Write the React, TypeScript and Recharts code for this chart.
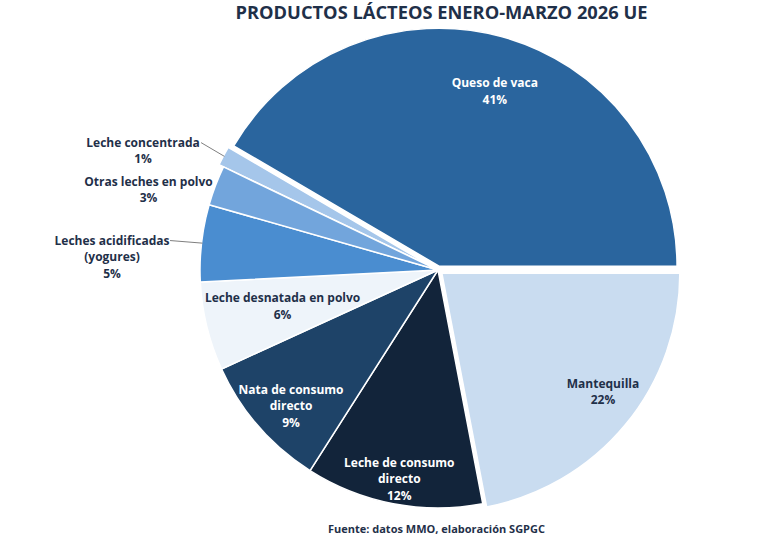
import React from "react";
import { PieChart, Pie, Cell } from "recharts";

// ---- Data ----
const categories = [
  "Mantequilla",
  "Leche de consumo directo",
  "Nata de consumo directo",
  "Leche desnatada en polvo",
  "Leches acidificadas (yogures)",
  "Otras leches en polvo",
  "Leche concentrada",
  "Queso de vaca",
];
const labelLines = [
  ["Mantequilla"],
  ["Leche de consumo", "directo"],
  ["Nata de consumo", "directo"],
  ["Leche desnatada en polvo"],
  ["Leches acidificadas", "(yogures)"],
  ["Otras leches en polvo"],
  ["Leche concentrada"],
  ["Queso de vaca"],
];
const values = [21.9, 12.0, 9.1, 6.0, 5.2, 2.7, 1.3, 41.4];
const percentLabels = ["22%", "12%", "9%", "6%", "5%", "3%", "1%", "41%"];

const title = "PRODUCTOS LÁCTEOS ENERO-MARZO 2026 UE";
const source = "Fuente: datos MMO, elaboración SGPGC";

// ---- Styles ----
const colors = ["#c9dcf0", "#12243a", "#1e4368", "#eef4fa", "#4a8dd0", "#72a5dc", "#a5c6ea", "#2a659e"];
const textColors = ["#1f3049", "#ffffff", "#ffffff", "#1f3049", "#1f3049", "#1f3049", "#1f3049", "#ffffff"];
const explode = [5, 0, 0, 0, 0, 0, 5, 4];
const labelCfg: any[] = [
  { kind: "in", r: 0.839, da: 3.3 },
  { kind: "in", r: 0.889, da: 0.3 },
  { kind: "in", r: 0.839, da: 1.6 },
  { kind: "in", r: 0.67, da: -0.8 },
  { kind: "out", dx: -89.5, dy: 13, lineEnd: 58 },
  { kind: "out", dx: -67, dy: 3.5 },
  { kind: "out", dx: -80.4, dy: -6, lineEnd: 58 },
  { kind: "in", r: 0.774, da: -2.4 },
];

const W = 779;
const H = 540;
const CX = 438;
const CY = 270;
const R = 238;
const RAD = Math.PI / 180;
const FONT = "'Open Sans', 'DejaVu Sans', sans-serif";

const data = categories.map((name, i) => ({ name, value: values[i] }));
const total = values.reduce((a, b) => a + b, 0);
const midAngles = (() => {
  let cum = 0;
  return values.map((v) => {
    const m = -((cum + v / 2) / total) * 360;
    cum += v;
    return m;
  });
})();

const renderLabel = (props: any) => {
  const { cx, cy, midAngle, outerRadius, index } = props;
  const cfg = labelCfg[index];
  const ex = explode[index];
  const lines = [...labelLines[index], percentLabels[index]];
  const lh = 16.5;
  let x: number;
  let y: number;
  let leader: any = null;
  if (cfg.kind === "in") {
    const a = (midAngle + cfg.da) * RAD;
    const r = outerRadius * cfg.r + ex;
    x = cx + r * Math.cos(a);
    y = cy - r * Math.sin(a);
  } else {
    const a = midAngle * RAD;
    const px = cx + (outerRadius + ex) * Math.cos(a);
    const py = cy - (outerRadius + ex) * Math.sin(a);
    x = px + cfg.dx;
    y = py + cfg.dy;
    if (cfg.lineEnd) {
      const ly = y - ((lines.length - 1) * lh) / 2 + 1;
      const sx = cx + (outerRadius + ex - 1) * Math.cos(a);
      const sy = cy - (outerRadius + ex - 1) * Math.sin(a);
      leader = (
        <path
          d={`M${sx},${sy}L${x + cfg.lineEnd},${ly}`}
          stroke="#7f7f7f"
          strokeWidth={1}
          fill="none"
        />
      );
    }
  }
  const y0 = y - ((lines.length - 1) * lh) / 2;
  return (
    <g key={`lbl-${index}`}>
      {leader}
      <text
        x={x}
        y={y0}
        textAnchor="middle"
        dominantBaseline="central"
        fill={textColors[index]}
        fontFamily={FONT}
        fontWeight={700}
        fontSize={12}
      >
        {lines.map((l, k) => (
          <tspan key={k} x={x} y={y0 + k * lh} dominantBaseline="central">
            {l}
          </tspan>
        ))}
      </text>
    </g>
  );
};

export default function App() {
  const explodedIdx = explode.map((e, i) => (e > 0 ? i : -1)).filter((i) => i >= 0);
  return (
    <div style={{ position: "absolute", left: 0, top: 0, width: W, height: H, background: "#fff" }}>
      <div
        style={{
          position: "absolute",
          left: 141.5,
          width: 600,
          top: 2,
          lineHeight: "20px",
          textAlign: "center",
          fontFamily: FONT,
          fontWeight: 700,
          fontSize: 18.3,
          color: "#1f3049",
        }}
      >
        {title}
      </div>
      <PieChart
        width={W}
        height={H}
        margin={{ top: 0, right: 0, bottom: 0, left: 0 }}
        style={{ position: "absolute", left: 0, top: 0 }}
      >
        {explodedIdx.map((idx) => {
          const m = midAngles[idx] * RAD;
          const ox = explode[idx] * Math.cos(m);
          const oy = -explode[idx] * Math.sin(m);
          return (
            <Pie
              key={`ex-${idx}`}
              data={data}
              dataKey="value"
              nameKey="name"
              cx={CX + ox}
              cy={CY + oy}
              outerRadius={R}
              startAngle={0}
              endAngle={-360}
              isAnimationActive={false}
              label={false}
              labelLine={false}
            >
              {data.map((_, i) => (
                <Cell
                  key={i}
                  fill={i === idx ? colors[i] : "transparent"}
                  stroke={i === idx ? "#ffffff" : "none"}
                  strokeWidth={1.5}
                />
              ))}
            </Pie>
          );
        })}
        <Pie
          data={data}
          dataKey="value"
          nameKey="name"
          cx={CX}
          cy={CY}
          outerRadius={R}
          startAngle={0}
          endAngle={-360}
          isAnimationActive={false}
          label={renderLabel}
          labelLine={false}
        >
          {data.map((_, i) => (
            <Cell
              key={i}
              fill={explode[i] > 0 ? "transparent" : colors[i]}
              stroke={explode[i] > 0 ? "none" : "#ffffff"}
              strokeWidth={1.5}
            />
          ))}
        </Pie>
      </PieChart>
      <div
        style={{
          position: "absolute",
          left: 136.5,
          width: 600,
          top: 521.5,
          lineHeight: "14px",
          textAlign: "center",
          fontFamily: FONT,
          fontWeight: 700,
          fontSize: 11,
          color: "#1f3049",
        }}
      >
        {source}
      </div>
    </div>
  );
}
